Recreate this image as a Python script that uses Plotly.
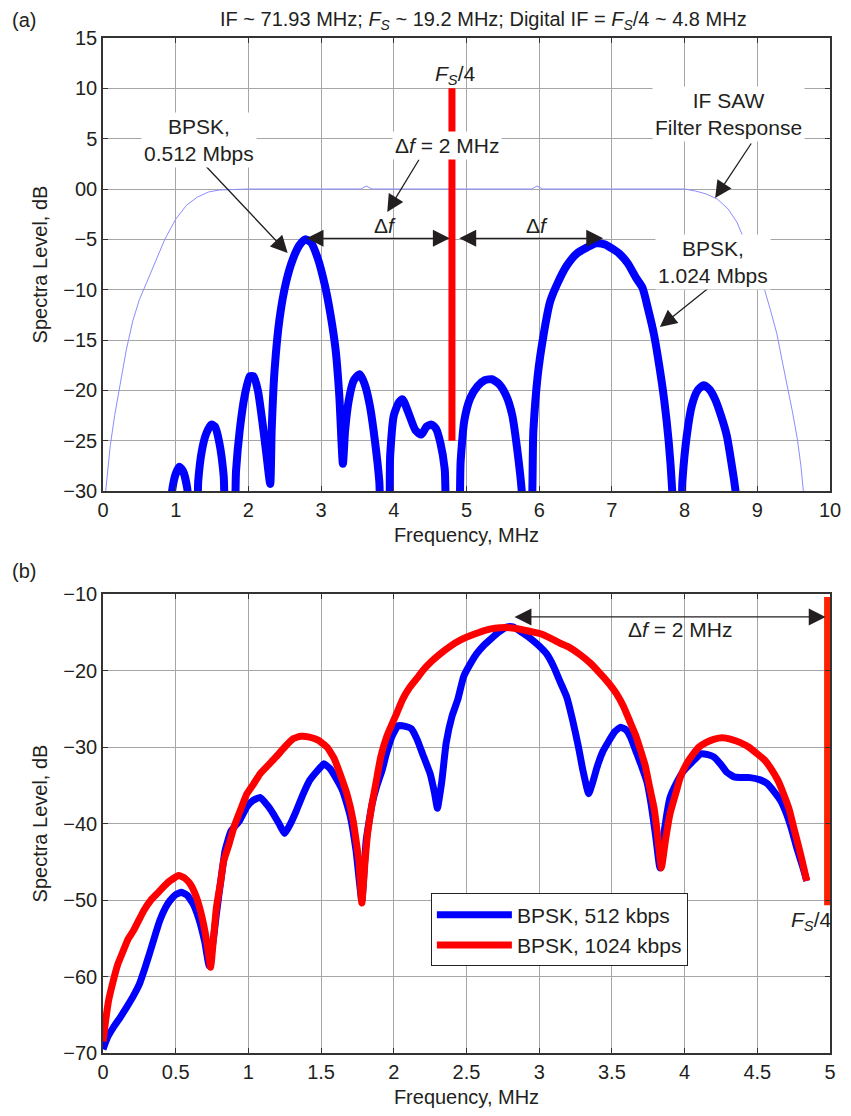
import plotly.graph_objects as go

# ---------------- Panel (a) data ----------------
a_freq = [0.88, 0.95, 1.00, 1.05, 1.10, 1.16, 1.21, 1.27, 1.31, 1.36, 1.42, 1.49, 1.54, 1.60, 1.66, 1.71,
          1.78, 1.83, 1.88, 1.95, 2.02, 2.07, 2.13, 2.19, 2.25, 2.30, 2.32, 2.36, 2.43, 2.52, 2.61, 2.70,
          2.78, 2.86, 2.95, 3.05, 3.13, 3.20, 3.25, 3.30, 3.33, 3.38, 3.45, 3.53, 3.60, 3.67, 3.74, 3.80,
          3.85, 3.91, 3.95, 4.00, 4.07, 4.12, 4.20, 4.30, 4.38, 4.45, 4.52, 4.58, 4.64, 4.70, 4.76, 4.86,
          4.92, 4.97, 5.05, 5.15, 5.25, 5.35, 5.45, 5.55, 5.63, 5.70, 5.76, 5.80, 5.86, 5.92, 5.98, 6.06,
          6.15, 6.25, 6.38, 6.52, 6.66, 6.78, 6.90, 7.00, 7.10, 7.22, 7.33, 7.42, 7.50, 7.58, 7.65, 7.72,
          7.78, 7.83, 7.86, 7.93, 7.97, 8.03, 8.10, 8.18, 8.26, 8.34, 8.42, 8.50, 8.58, 8.65, 8.70, 8.74]
a_level = [-36, -30, -28.3, -27.6, -28.0, -29.8, -36, -36, -29, -26, -24.3, -23.4, -23.6, -25.2, -28.5, -36,
           -36, -28, -24, -20.5, -18.6, -18.6, -20.0, -23, -26.5, -29.3, -24, -18, -12.8, -9.2, -7.0, -5.6,
           -5.0, -5.3, -6.8, -9.5, -12.5, -16, -20.5, -27.3, -24, -21.0, -19.0, -18.4, -19.4, -21.5, -25, -29,
           -36, -36, -26.5, -22.5, -21.2, -20.9, -22.2, -24.0, -24.4, -23.6, -23.4, -23.8, -25.2, -27.8, -36, -36,
           -27, -23, -20.8, -19.6, -19.0, -18.9, -19.4, -20.6, -22.5, -26, -30, -36, -36, -24, -18.5, -14.5,
           -11.2, -9.4, -7.6, -6.4, -5.8, -5.4, -5.5, -5.9, -6.4, -7.4, -8.8, -9.8, -12.0, -14.5, -17.5, -21,
           -25, -30, -36, -36, -29, -24.5, -21.5, -20.0, -19.5, -19.9, -20.9, -22.5, -24.5, -27.5, -30, -36]

saw_freq = [0.03, 0.06, 0.10, 0.16, 0.23, 0.32, 0.41, 0.50, 0.60, 0.72, 0.85, 1.00, 1.15, 1.30, 1.45, 1.60,
            2.00, 3.00, 3.55, 3.62, 3.70, 5.90, 5.97, 6.05, 8.00, 8.15, 8.30, 8.45, 8.60, 8.72, 8.82, 8.95,
            9.08, 9.18, 9.27, 9.34, 9.41, 9.48, 9.55, 9.60, 9.64]
saw_level = [-30.5, -28, -25.5, -22.5, -19.8, -16, -13.1, -11, -9.3, -7.2, -5.0, -3.0, -1.6, -0.8, -0.3, -0.1,
             0, 0, 0, 0.3, 0, 0, 0.3, 0, 0, -0.2, -0.5, -1.0, -2.0, -3.3, -5.0, -7.2,
             -9.5, -12, -14.4, -17, -19.4, -22, -24.8, -27.5, -30.5]

a_fs4_freq = [4.8, 4.8]
a_fs4_level = [-25, 10]

a_yticks = [15, 10, 5, 0, -5, -10, -15, -20, -25, -30]
a_yticklabels = ["15", "10", "5", "00", "\u22125", "\u221210", "\u221215", "\u221220", "\u221225", "\u221230"]

# ---------------- Panel (b) data ----------------
b_freq_512 = [0.00, 0.03, 0.07, 0.12, 0.16, 0.21, 0.25, 0.29, 0.32, 0.36, 0.39, 0.43, 0.46, 0.50, 0.54, 0.58,
              0.62, 0.66, 0.70, 0.73, 0.76, 0.78, 0.81, 0.84, 0.88, 0.94, 0.99, 1.03, 1.08, 1.13, 1.17, 1.21,
              1.25, 1.29, 1.33, 1.38, 1.42, 1.47, 1.52, 1.56, 1.60, 1.65, 1.70, 1.74, 1.78, 1.81, 1.85, 1.88,
              1.92, 1.95, 1.99, 2.03, 2.08, 2.12, 2.16, 2.20, 2.25, 2.28, 2.30, 2.33, 2.36, 2.40, 2.44, 2.48,
              2.53, 2.57, 2.62, 2.66, 2.72, 2.78, 2.82, 2.88, 2.94, 3.00, 3.05, 3.10, 3.14, 3.19, 3.23, 3.27,
              3.30, 3.34, 3.37, 3.40, 3.44, 3.47, 3.52, 3.56, 3.60, 3.63, 3.67, 3.70, 3.74, 3.77, 3.80, 3.83,
              3.86, 3.90, 3.95, 3.99, 4.05, 4.11, 4.16, 4.20, 4.25, 4.29, 4.34, 4.38, 4.45, 4.52, 4.57, 4.61,
              4.66, 4.70, 4.74, 4.77, 4.81, 4.84]
b_level_512 = [-69.5, -68.0, -66.7, -65.3, -64.1, -62.5, -61.0, -58.8, -57.0, -54.5, -52.7, -51.0, -50.1, -49.3, -49.0, -49.4,
               -50.5, -52.5, -55.5, -58.6, -55.0, -51.8, -47.5, -43.5, -41.0, -39.6, -37.8, -37.0, -36.6, -37.6, -38.7, -40.0,
               -41.3, -40.0, -38.3, -36.0, -34.4, -33.2, -32.2, -32.8, -34.0, -35.8, -39.0, -43.5, -50.1, -42.2, -37.5, -35.3,
               -33.0, -30.8, -28.5, -27.2, -27.3, -27.6, -29.0, -31.0, -33.5, -36.0, -38.0, -34.5, -29.5, -26.0, -23.8, -20.8,
               -19.0, -17.8, -16.7, -16.0, -15.0, -14.3, -14.3, -15.0, -15.8, -16.8, -17.8, -19.5, -21.3, -23.5, -26.5, -30.0,
               -33.0, -36.1, -34.5, -32.5, -30.5, -29.5, -28.0, -27.4, -27.8, -28.8, -30.8, -32.3, -34.5, -37.5, -41.5, -45.8,
               -41.0, -36.6, -34.5, -33.2, -32.0, -30.9, -31.0, -31.3, -32.3, -33.3, -33.9, -34.0, -34.0, -34.3, -34.8, -35.7,
               -37.0, -38.7, -41.0, -43.1, -45.5, -47.5]

b_freq_1024 = [0.00, 0.02, 0.04, 0.07, 0.10, 0.14, 0.17, 0.21, 0.25, 0.28, 0.33, 0.37, 0.42, 0.46, 0.52, 0.56,
               0.60, 0.64, 0.67, 0.71, 0.74, 0.76, 0.78, 0.81, 0.83, 0.87, 0.90, 0.95, 0.99, 1.04, 1.08, 1.14,
               1.19, 1.25, 1.31, 1.36, 1.42, 1.48, 1.54, 1.59, 1.63, 1.68, 1.72, 1.76, 1.78, 1.80, 1.82, 1.85,
               1.88, 1.91, 1.95, 2.02, 2.06, 2.11, 2.16, 2.20, 2.26, 2.32, 2.39, 2.46, 2.52, 2.59, 2.66, 2.73,
               2.80, 2.87, 2.94, 3.01, 3.08, 3.14, 3.21, 3.28, 3.35, 3.42, 3.48, 3.53, 3.58, 3.62, 3.66, 3.69,
               3.73, 3.76, 3.79, 3.81, 3.84, 3.87, 3.90, 3.94, 3.97, 4.01, 4.06, 4.10, 4.15, 4.20, 4.26, 4.32,
               4.38, 4.44, 4.50, 4.55, 4.59, 4.64, 4.68, 4.72, 4.75, 4.78, 4.81, 4.84]
b_level_1024 = [-68.5, -65.5, -63.0, -60.6, -58.5, -56.6, -55.2, -54.0, -52.5, -51.4, -50.0, -49.2, -48.2, -47.5, -46.8, -47.1,
                -47.9, -49.5, -51.4, -55.0, -58.8, -55.0, -51.0, -47.5, -44.9, -42.5, -40.5, -38.0, -36.1, -34.7, -33.5, -32.3,
                -31.3, -30.0, -28.9, -28.6, -28.7, -29.1, -30.0, -31.5, -33.5, -36.3, -39.6, -45.0, -50.4, -45.5, -41.3, -37.5,
                -34.4, -31.3, -28.7, -25.6, -23.8, -22.2, -21.0, -20.0, -18.8, -17.8, -16.8, -16.0, -15.5, -15.0, -14.6, -14.4,
                -14.4, -14.6, -14.9, -15.2, -15.8, -16.4, -17.0, -17.9, -19.0, -20.4, -21.7, -23.0, -24.7, -26.5, -28.3, -30.0,
                -32.5, -35.3, -38.0, -40.9, -45.8, -42.0, -38.7, -36.0, -34.0, -32.3, -30.9, -30.0, -29.4, -29.0, -28.8, -29.0,
                -29.4, -30.0, -30.9, -31.7, -32.7, -34.3, -36.1, -38.2, -40.5, -42.7, -45.0, -47.5]

b_fs4_freq = [4.98, 4.98]
b_fs4_level = [-50.7, -10.4]

series_names = ["BPSK, 512 kbps", "BPSK, 1024 kbps"]

# ---------------- Figure ----------------
FONT = "Liberation Sans, Arial, Helvetica, sans-serif"
TXT = "#231f20"
GRID = "#a6a6a6"
FRAME = "#333333"

fig = go.Figure()

fig.add_trace(go.Scatter(x=saw_freq, y=saw_level, mode="lines", line=dict(color="#8c8cff", width=1),
                         showlegend=False, xaxis="x", yaxis="y", name="IF SAW Filter Response"))
fig.add_trace(go.Scatter(x=a_freq, y=a_level, mode="lines",
                         line=dict(color="#0000ff", width=8, shape="spline", smoothing=0.6),
                         showlegend=False, xaxis="x", yaxis="y", name="BPSK spectra"))
fig.add_trace(go.Scatter(x=a_fs4_freq, y=a_fs4_level, mode="lines", line=dict(color="#ff0000", width=7),
                         showlegend=False, xaxis="x", yaxis="y", name="Fs/4"))

fig.add_trace(go.Scatter(x=b_freq_512, y=b_level_512, mode="lines",
                         line=dict(color="#0000ff", width=7, shape="spline", smoothing=0.4),
                         name=series_names[0], xaxis="x2", yaxis="y2"))
fig.add_trace(go.Scatter(x=b_freq_1024, y=b_level_1024, mode="lines",
                         line=dict(color="#ff0000", width=7, shape="spline", smoothing=0.4),
                         name=series_names[1], xaxis="x2", yaxis="y2"))
fig.add_trace(go.Scatter(x=b_fs4_freq, y=b_fs4_level, mode="lines", line=dict(color="#ff2200", width=6),
                         showlegend=False, xaxis="x2", yaxis="y2", name="Fs/4"))

axis_common = dict(showgrid=True, gridcolor=GRID, gridwidth=1, zeroline=False, showline=True,
                   linecolor=FRAME, linewidth=1.5, mirror="ticks", ticks="inside", ticklen=5,
                   tickcolor=FRAME, automargin=False, tickfont=dict(family=FONT, size=20, color=TXT))
title_font = dict(family=FONT, size=20, color=TXT)

# the page body adds an 8px offset; margins compensate so the plot frame lands where the reference has it
fig.update_layout(
    width=851, height=1116,
    margin=dict(l=95, r=29, t=30, b=71, autoexpand=False),
    paper_bgcolor="white", plot_bgcolor="white",
    font=dict(family=FONT, size=20, color=TXT),
    xaxis=dict(axis_common, domain=[0, 1], anchor="y", range=[0, 10], dtick=1, tick0=0,
               title=dict(text="Frequency, MHz", font=title_font, standoff=8)),
    yaxis=dict(axis_common, domain=[0.5537, 1], anchor="x", range=[-30, 15],
               tickvals=a_yticks, ticktext=a_yticklabels,
               title=dict(text="Spectra Level, dB", font=title_font, standoff=10)),
    xaxis2=dict(axis_common, domain=[0, 1], anchor="y2", range=[0, 5], dtick=0.5, tick0=0,
                title=dict(text="Frequency, MHz", font=title_font, standoff=8)),
    yaxis2=dict(axis_common, domain=[0, 0.4522], anchor="x2", range=[-70, -10], dtick=10,
                title=dict(text="Spectra Level, dB", font=title_font, standoff=10)),
    legend=dict(x=0.451, y=0.1212, xanchor="left", yanchor="middle", bgcolor="white",
                bordercolor="#222222", borderwidth=1, font=dict(family=FONT, size=21, color=TXT),
                itemwidth=75, tracegroupgap=0),
    showlegend=True,
)

ann = []
def text(x, y, t, xref="x", yref="y", size=21, bg="rgba(0,0,0,0)", xanchor="center"):
    ann.append(dict(x=x, y=y, xref=xref, yref=yref, text=t, showarrow=False, bgcolor=bg,
                    font=dict(family=FONT, size=size, color=TXT), xanchor=xanchor, yanchor="middle",
                    borderpad=2))

def arrow(x0, y0, x1, y1, xref="x", yref="y", both=False):
    d = dict(x=x1, y=y1, ax=x0, ay=y0, xref=xref, yref=yref, axref=xref, ayref=yref, text="",
             showarrow=True, arrowhead=2, arrowsize=2.6, arrowwidth=1.3, arrowcolor=TXT)
    if both:
        d.update(arrowside="end+start", startarrowhead=2, startarrowsize=2.6)
    ann.append(d)

# titles / panel labels
text(0.5227, 1.0177, "IF ~ 71.93 MHz; <i>F<sub>S</sub></i> ~ 19.2 MHz; Digital IF = <i>F<sub>S</sub></i>/4 ~ 4.8 MHz",
     xref="paper", yref="paper", size=20)
text(-0.1293, 1.0177, "(a)", xref="paper", yref="paper", size=20, xanchor="left")
text(-0.1293, 0.4749, "(b)", xref="paper", yref="paper", size=20, xanchor="left")

# panel (a) annotations
arrow(4.36, 3.08, 3.91, -2.28)
arrow(1.40, 2.39, 2.54, -6.35)
arrow(8.93, 4.67, 8.42, -0.89)
arrow(8.38, -9.53, 7.66, -13.7)
arrow(2.78, -4.9, 4.77, -4.9, both=True)
arrow(4.88, -4.9, 6.88, -4.9, both=True)
text(4.84, 11.3, "<i>F<sub>S</sub></i>/4")
text(4.73, 4.3, "\u0394<i>f</i> = 2 MHz", bg="white")
text(3.88, -3.6, "\u0394<i>f</i>")
text(5.97, -3.6, "\u0394<i>f</i>")
text(1.32, 4.9, "BPSK,<br>0.512 Mbps", bg="white")
text(8.60, 7.45, "IF SAW<br>Filter Response", bg="white")
text(8.39, -7.3, "BPSK,<br>1.024 Mbps", bg="white")

# panel (b) annotations
arrow(2.82, -13.0, 4.97, -13.0, xref="x2", yref="y2", both=True)
text(3.97, -14.7, "\u0394<i>f</i> = 2 MHz", xref="x2", yref="y2")
text(4.87, -52.7, "<i>F<sub>S</sub></i>/4", xref="x2", yref="y2")

fig.update_layout(annotations=ann)

fig.write_html("out.html")
